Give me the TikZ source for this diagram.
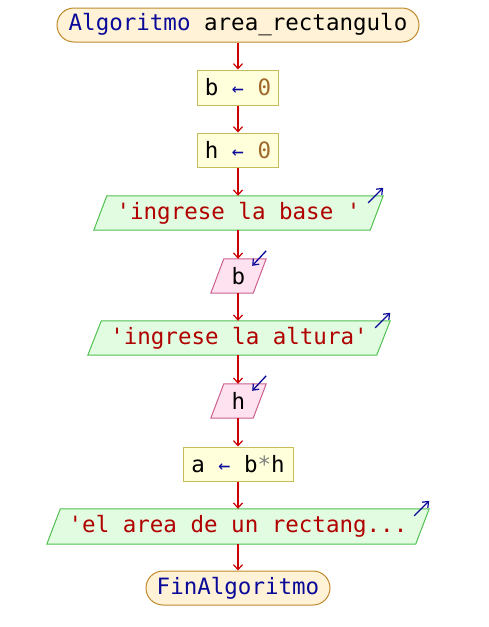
\documentclass[tikz,border=0pt]{standalone}
\usepackage{fontspec}
\setmonofont{DejaVu Sans Mono}
\usetikzlibrary{arrows.meta}
\pgfdeclarelayer{background}
\pgfsetlayers{background,main}
\definecolor{termfill}{HTML}{FFF2D6}
\definecolor{termdraw}{HTML}{C08A2C}
\definecolor{procfill}{HTML}{FFFFDC}
\definecolor{procdraw}{HTML}{C8BC5A}
\definecolor{outfill}{HTML}{E2FCE2}
\definecolor{outdraw}{HTML}{50C050}
\definecolor{infill}{HTML}{FFE2F0}
\definecolor{indraw}{HTML}{CC6090}
\definecolor{kw}{HTML}{0A0A9A}
\definecolor{strc}{HTML}{B00000}
\definecolor{numc}{HTML}{A0682A}
\definecolor{flow}{HTML}{CC0000}
\definecolor{opc}{HTML}{808080}
\tikzset{
  base/.style={inner sep=0pt, font=\ttfamily\fontsize{22.5}{24}\selectfont, anchor=center},
  term/.style={base, draw=termdraw, fill=termfill, line width=1pt, rounded corners=17pt, minimum height=34pt},
  proc/.style={base, draw=procdraw, fill=procfill, line width=1pt, minimum height=34pt},
  io/.style={base, minimum height=34pt},
  flowline/.style={draw=flow, line width=1.5pt, -{Straight Barb[length=5pt,width=9pt,line width=1.2pt]}},
  ioarrow/.style={draw=kw, line width=1.3pt, -{Straight Barb[length=5pt,width=8pt,line width=1.2pt]}}
}
\newcommand{\para}[4]{% node, slant, fill, draw
  \begin{pgfonlayer}{background}
  \draw[fill=#3, draw=#4, line width=1pt] ([xshift=#2]#1.north west) -- (#1.north east) -- ([xshift=-#2]#1.south east) -- (#1.south west) -- cycle;
  \end{pgfonlayer}}
\begin{document}
\begin{tikzpicture}[x=1pt,y=-1pt]
\useasboundingbox (0,0) rectangle (489,627);
\node[term, minimum width=362pt] (start) at (238,25) {\textcolor{kw}{Algoritmo} area\_rectangulo};
\node[proc, minimum width=81pt, minimum height=35pt] (b0) at (238,87.5) {b \textcolor{kw}{\fontsize{20}{22}\selectfont←} \textcolor{numc}{0}};
\node[proc, minimum width=81pt] (h0) at (238,150) {h \textcolor{kw}{\fontsize{20}{22}\selectfont←} \textcolor{numc}{0}};
\node[io, minimum width=289pt] (o1) at (238.5,213) {\textcolor{strc}{'ingrese la base '}};
\para{o1}{13pt}{outfill}{outdraw}
\node[io, minimum width=55pt] (ib) at (238.5,276) {b};
\para{ib}{13pt}{infill}{indraw}
\node[io, minimum width=302pt] (o2) at (239,338) {\textcolor{strc}{'ingrese la altura'}};
\para{o2}{13.5pt}{outfill}{outdraw}
\node[io, minimum width=55pt] (ih) at (238.5,401) {h};
\para{ih}{13pt}{infill}{indraw}
\node[proc, minimum width=110pt] (a) at (238,464) {a \textcolor{kw}{\fontsize{20}{22}\selectfont←} b\textcolor{opc}{*}h};
\node[io, minimum width=382pt, minimum height=35pt] (o3) at (238,526.5) {\textcolor{strc}{'el area de un rectang...}};
\para{o3}{13.5pt}{outfill}{outdraw}
\node[term, minimum width=184pt] (end) at (238,588) {\textcolor{kw}{FinAlgoritmo}};
% io indicator arrows
\coordinate (o1a) at ([xshift=-15pt,yshift=-7pt]o1.north east);
\coordinate (o1b) at ([yshift=8pt]o1.north east);
\draw[ioarrow] (o1a) -- (o1b);
\coordinate (o2a) at ([xshift=-15pt,yshift=-7pt]o2.north east);
\coordinate (o2b) at ([yshift=8pt]o2.north east);
\draw[ioarrow] (o2a) -- (o2b);
\coordinate (o3a) at ([xshift=-15pt,yshift=-7pt]o3.north east);
\coordinate (o3b) at ([yshift=8pt]o3.north east);
\draw[ioarrow] (o3a) -- (o3b);
\coordinate (iba) at ([yshift=8pt]ib.north east);
\coordinate (ibb) at ([xshift=-14pt,yshift=-7pt]ib.north east);
\draw[ioarrow] (iba) -- (ibb);
\coordinate (iha) at ([yshift=8pt]ih.north east);
\coordinate (ihb) at ([xshift=-14pt,yshift=-7pt]ih.north east);
\draw[ioarrow] (iha) -- (ihb);
% flow
\draw[flowline] (start) -- (b0);
\draw[flowline] (b0) -- (h0);
\draw[flowline] (h0) -- (h0 |- o1.north);
\draw[flowline] (h0 |- o1.south) -- (h0 |- ib.north);
\draw[flowline] (h0 |- ib.south) -- (h0 |- o2.north);
\draw[flowline] (h0 |- o2.south) -- (h0 |- ih.north);
\draw[flowline] (h0 |- ih.south) -- (h0 |- a.north);
\draw[flowline] (a) -- (o3);
\draw[flowline] (o3) -- (end);
\end{tikzpicture}
\end{document}
